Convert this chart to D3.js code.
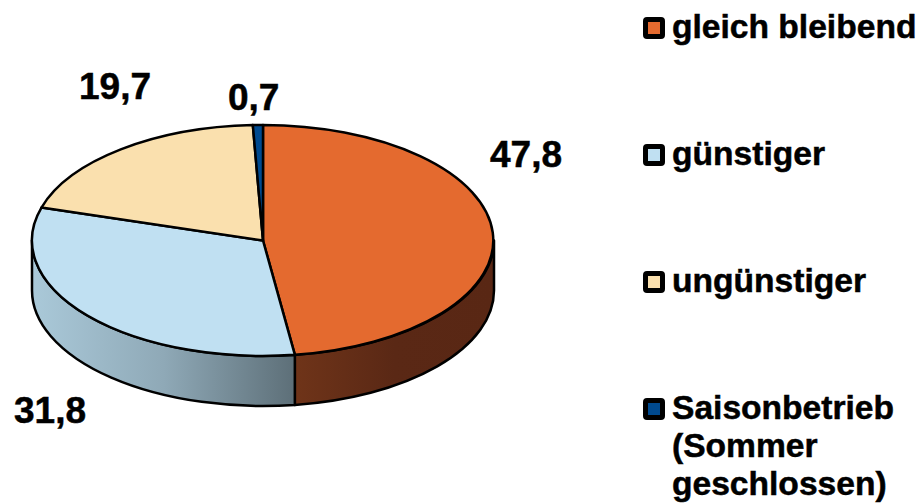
<!DOCTYPE html>
<html>
<head>
<meta charset="utf-8">
<script src="https://d3js.org/d3.v7.min.js"></script>
<style>
  html, body { margin: 0; padding: 0; background: #fff; }
  svg { display: block; }
  text { font-family: "Liberation Sans", Arial, sans-serif; font-weight: bold; fill: #000; stroke: #000; stroke-width: 0.5px; }
</style>
</head>
<body>
<div id="Chart"></div>
<script>
// chart data
var categories = ["gleich bleibend", "günstiger", "ungünstiger", "Saisonbetrieb"];
var values = [47.8, 31.8, 19.7, 0.7];
var valueLabels = ["47,8", "31,8", "19,7", "0,7"];
var colors = ["#e46a2f", "#c0e0f2", "#fae0ae", "#004a8f"];
var legendLines = [["gleich bleibend"], ["günstiger"], ["ungünstiger"], ["Saisonbetrieb", "(Sommer", "geschlossen)"]];

// side wall shading, left, middle and right of each visible wall
var wallStops = [["#6f3419", "#5a2815", "#592714"], ["#aac9d9", "#8fa9b7", "#5d6f78"]];

// layout
var width = 922, height = 504;
var cx = 263, cy = 240.5, rx = 231, ry = 115.5, depth = 50;
var labelAnchors = [[490, 167], [14, 423], [79, 99], [228, 110]];

var svg = d3.select("#Chart").append("svg")
    .attr("width", width)
    .attr("height", height);

var pie = d3.pie().sort(null).value(function (d) { return d; });
var slices = pie(values);

function px(a) { return cx + rx * Math.sin(a); }
function py(a) { return cy - ry * Math.cos(a); }

// front wall of the disc between two angles
function wallPath(a0, a1) {
  return "M" + px(a0) + "," + py(a0) +
    "A" + rx + "," + ry + " 0 0 1 " + px(a1) + "," + py(a1) +
    "L" + px(a1) + "," + (py(a1) + depth) +
    "A" + rx + "," + ry + " 0 0 0 " + px(a0) + "," + (py(a0) + depth) + "Z";
}

var defs = svg.append("defs");
var walls = svg.append("g");

// only the part between 90 and 270 degrees can be seen
slices.forEach(function (s, i) {
  var a0 = Math.max(s.startAngle, Math.PI / 2);
  var a1 = Math.min(s.endAngle, Math.PI * 1.5);
  if (a1 <= a0) return;

  var x0 = Math.min(px(a0), px(a1)), x1 = Math.max(px(a0), px(a1));
  var grad = defs.append("linearGradient")
      .attr("id", "wall" + i)
      .attr("gradientUnits", "userSpaceOnUse")
      .attr("x1", x0).attr("x2", x1).attr("y1", 0).attr("y2", 0);
  grad.append("stop").attr("offset", "0%").attr("stop-color", wallStops[i][0]);
  grad.append("stop").attr("offset", "50%").attr("stop-color", wallStops[i][1]);
  grad.append("stop").attr("offset", "100%").attr("stop-color", wallStops[i][2]);

  walls.append("path")
      .attr("d", wallPath(a0, a1))
      .attr("fill", "url(#wall" + i + ")")
      .attr("stroke", "#000")
      .attr("stroke-width", 2.5)
      .attr("stroke-linejoin", "round");
});

// top of the disc: a unit pie squashed into the ellipse
var arc = d3.arc().innerRadius(0).outerRadius(1);

svg.append("g")
    .attr("transform", "translate(" + cx + "," + cy + ") scale(" + rx + "," + ry + ")")
  .selectAll("path")
  .data(slices)
  .enter()
  .append("path")
    .attr("d", arc)
    .attr("fill", function (d, i) { return colors[i]; })
    .attr("stroke", "#000")
    .attr("stroke-width", 2.5)
    .attr("stroke-linejoin", "round")
    .attr("vector-effect", "non-scaling-stroke");

// value labels
svg.append("g")
  .selectAll("text")
  .data(valueLabels)
  .enter()
  .append("text")
    .attr("x", function (d, i) { return labelAnchors[i][0]; })
    .attr("y", function (d, i) { return labelAnchors[i][1]; })
    .attr("font-size", 37)
    .text(function (d) { return d; });

// legend
var legendY = d3.scalePoint()
    .domain(categories)
    .range([39, 420]);

var legend = svg.append("g")
  .selectAll("g")
  .data(categories)
  .enter()
  .append("g")
    .attr("transform", function (d) { return "translate(0," + legendY(d) + ")"; });

legend.append("rect")
    .attr("x", 645.5)
    .attr("y", -19.5)
    .attr("width", 17)
    .attr("height", 17)
    .attr("rx", 1.5)
    .attr("fill", function (d, i) { return colors[i]; })
    .attr("stroke", "#000")
    .attr("stroke-width", 5);

legend.each(function (d, i) {
  var t = d3.select(this).append("text")
      .attr("font-size", 33.6);
  legendLines[i].forEach(function (line, j) {
    t.append("tspan")
        .attr("x", 672)
        .attr("y", j * 38 - 1)
        .text(line);
  });
});
</script>
</body>
</html>
